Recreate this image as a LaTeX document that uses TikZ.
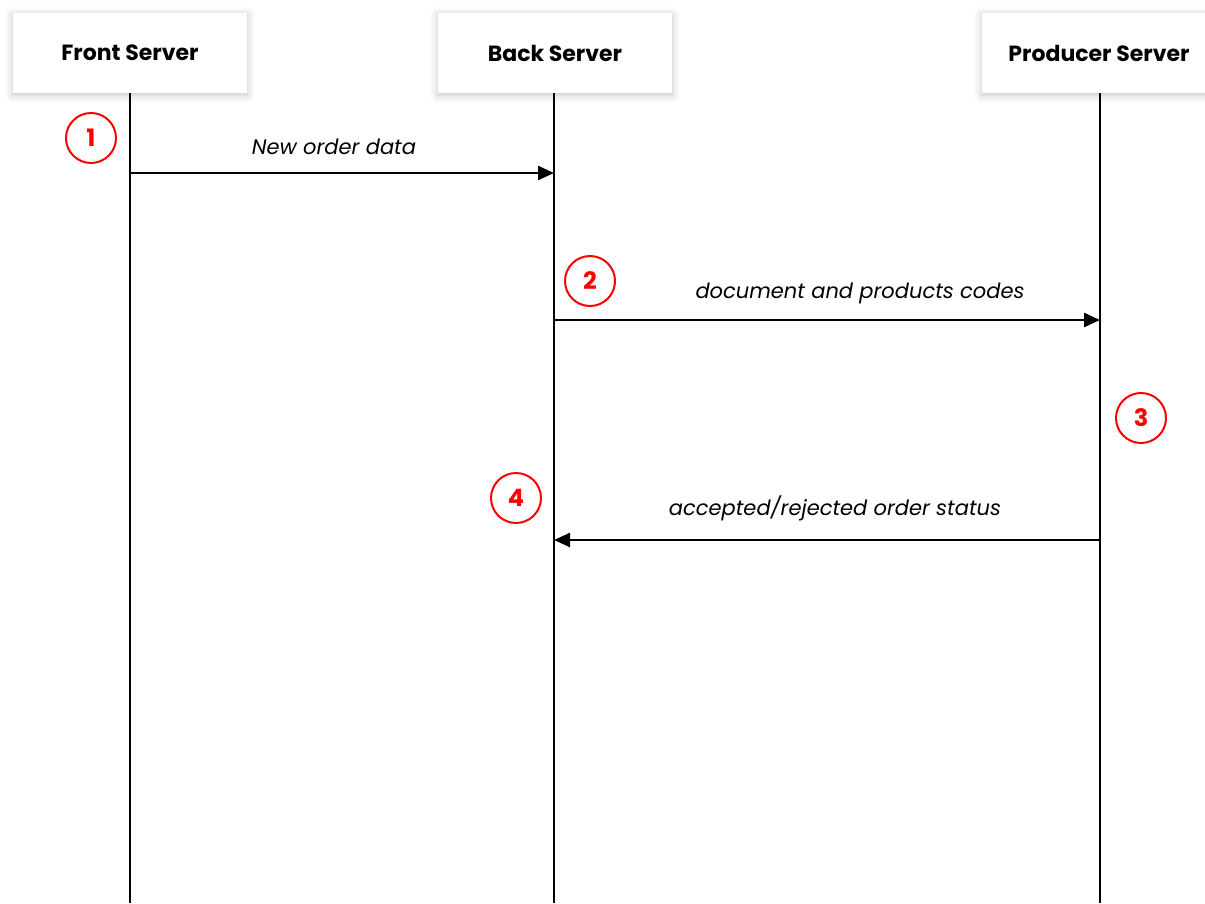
\documentclass[tikz,border=0pt]{standalone}
\usepackage{fontspec}
\setmainfont{Poppins}
\usetikzlibrary{arrows.meta,shadows.blur}
\begin{document}
\begin{tikzpicture}[x=1pt,y=-1pt,
  actor/.style={draw=none,fill=white,minimum width=234pt,minimum height=80pt,inner sep=0pt,
    blur shadow={shadow xshift=0pt,shadow yshift=-2pt,shadow blur radius=8pt,shadow opacity=25},
    font=\fontsize{22}{24}\selectfont\bfseries},
  life/.style={line width=2.4pt,black},
  msg/.style={line width=2.4pt,-{Triangle[length=16pt,width=14pt]}},
  lbl/.style={font=\fontsize{21}{24}\selectfont\itshape, inner sep=0pt},
  num/.style={circle,draw=red,line width=2pt,text=red,minimum size=50pt,inner sep=0pt,
    font=\fontsize{24}{26}\selectfont\bfseries}]
\useasboundingbox (0,0) rectangle (1205,903);
\node[actor] (front) at (130,53) {Front Server};
\node[actor] (back) at (555,53) {Back Server};
\node[actor] (prod) at (1099,53) {Producer Server};
\coordinate (fe) at (130,903);
\coordinate (be) at (554,903);
\coordinate (pe) at (1100,903);
\draw[life] (130,93) -- (fe);
\draw[life] (554,93) -- (be);
\draw[life] (1100,93) -- (pe);
\coordinate (f1) at (130,173);
\coordinate (b1) at (554,173);
\coordinate (b2) at (554,320);
\coordinate (p2) at (1100,320);
\coordinate (p3) at (1100,540);
\coordinate (b3) at (554,540);
\draw[msg] (f1) -- (b1);
\draw[msg] (b2) -- (p2);
\draw[msg] (p3) -- (b3);
\node[lbl] (l1) at (334,147) {New order data};
\node[lbl] (l2) at (860,293) {document and products codes};
\node[lbl] (l3) at (835,508) {accepted/rejected order status};
\node[num] (n1) at (91,138) {1};
\node[num] (n2) at (590,281) {2};
\node[num] (n3) at (1141,418) {3};
\node[num] (n4) at (516,498) {4};
\end{tikzpicture}
\end{document}
